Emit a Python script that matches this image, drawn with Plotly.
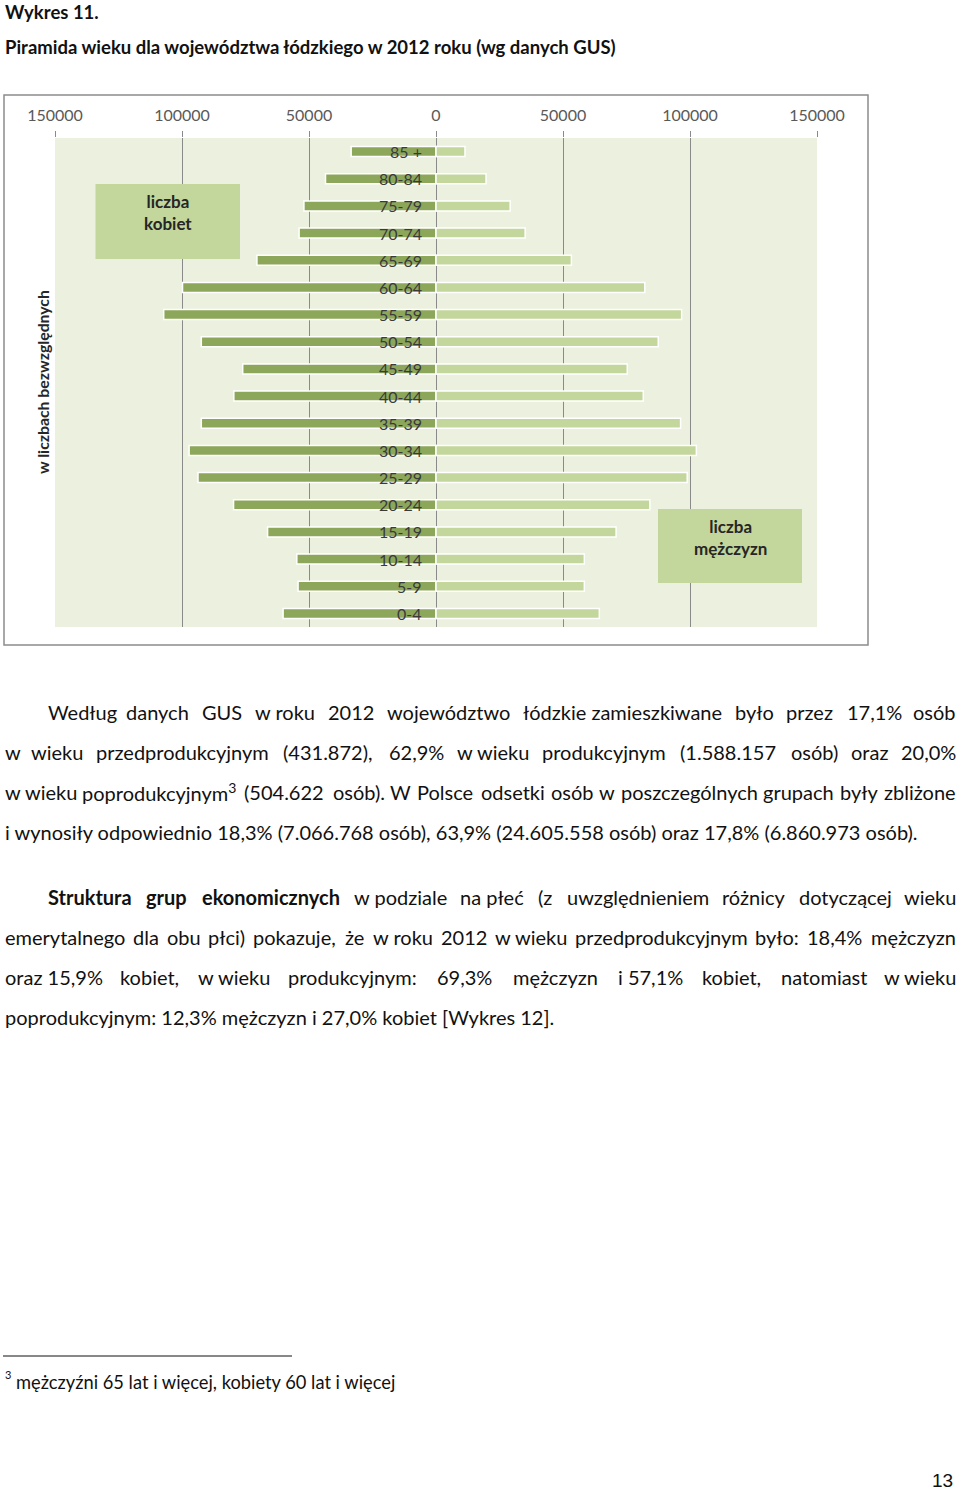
import re
import plotly.graph_objects as go

W, H = 960, 1490

# ---------------- data ----------------
age_groups = ["0-4", "5-9", "10-14", "15-19", "20-24", "25-29", "30-34", "35-39", "40-44",
              "45-49", "50-54", "55-59", "60-64", "65-69", "70-74", "75-79", "80-84", "85 +"]
female = [60200, 54300, 54800, 66300, 79700, 93700, 97200, 92400, 79600,
          76100, 92400, 107200, 99800, 70500, 53900, 52000, 43500, 33400]
male = [64300, 58400, 58400, 70900, 84200, 98900, 102500, 96300, 81600,
        75300, 87500, 96700, 82200, 53300, 35100, 29200, 19700, 11400]
tick_vals = [-150000, -100000, -50000, 0, 50000, 100000, 150000]
tick_text = ["150000", "100000", "50000", "0", "50000", "100000", "150000"]

FEMALE_C = "#8CA75A"
MALE_C = "#C3D69B"
BG_C = "#EBF1DE"
GRID_C = "#8A8A8A"
FONT = "Lato, 'Open Sans', sans-serif"


def pxx(x):
    return x / W


def pyy(y):
    return 1 - y / H


fig = go.Figure()
fig.add_trace(go.Bar(y=age_groups, x=[-v for v in female], orientation="h", width=0.37,
                     marker=dict(color=FEMALE_C, line=dict(color="white", width=1.5)),
                     name="kobiety", customdata=female,
                     hovertemplate="%{y}: %{customdata}<extra>kobiety</extra>"))
fig.add_trace(go.Bar(y=age_groups, x=male, orientation="h", width=0.37,
                     marker=dict(color=MALE_C, line=dict(color="white", width=1.5)),
                     name="mężczyźni",
                     hovertemplate="%{y}: %{x}<extra>mężczyźni</extra>"))

annotations = []
shapes = []

# age labels inside chart
for ag in age_groups:
    annotations.append(dict(xref="x", yref="y", x=0, y=ag, text=ag, showarrow=False,
                            xanchor="right", yanchor="middle", xshift=-12,
                            font=dict(family=FONT, size=16, color="#3A3A3A")))

# y title
annotations.append(dict(xref="paper", yref="paper", x=pxx(42), y=pyy(382),
                        text="<b>w liczbach bezwzględnych</b>", textangle=-90, showarrow=False,
                        xanchor="center", yanchor="middle",
                        font=dict(family=FONT, size=15.8, color="#262626")))

# label boxes
shapes.append(dict(type="rect", xref="paper", yref="paper", x0=pxx(95.5), x1=pxx(240),
                   y0=pyy(259), y1=pyy(184), fillcolor=MALE_C, line=dict(width=0), layer="above"))
shapes.append(dict(type="rect", xref="paper", yref="paper", x0=pxx(658), x1=pxx(802),
                   y0=pyy(583), y1=pyy(509), fillcolor=MALE_C, line=dict(width=0), layer="above"))
annotations.append(dict(xref="paper", yref="paper", x=pxx(168), y=pyy(212),
                        text="<b>liczba<br>kobiet</b>", showarrow=False, align="center",
                        xanchor="center", yanchor="middle",
                        font=dict(family=FONT, size=17, color="#262626")))
annotations.append(dict(xref="paper", yref="paper", x=pxx(730), y=pyy(537),
                        text="<b>liczba<br>mężczyzn</b>", showarrow=False, align="center",
                        xanchor="center", yanchor="middle",
                        font=dict(family=FONT, size=17, color="#262626")))

# outer chart frame
shapes.append(dict(type="rect", xref="paper", yref="paper", x0=pxx(4), x1=pxx(868),
                   y0=pyy(645), y1=pyy(95), line=dict(color="#8C8C8C", width=1.5),
                   fillcolor="rgba(0,0,0,0)", layer="below"))

# ---------------- page text ----------------
TEXT_C = "#111111"


def char_w(c):
    if c == " ":
        return 0.193
    if c in "ilj.,:;'!|":
        return 0.24
    if c in "ł":
        return 0.28
    if c in "ftr()[]":
        return 0.33
    if c.isdigit():
        return 0.58
    if c == "%":
        return 0.82
    if c in "mMW":
        return 0.85
    if c in "w":
        return 0.75
    if c.isupper():
        return 0.66
    if c in "szc":
        return 0.43
    return 0.53


def est_w(tok, size):
    sup = re.findall(r"<sup>(.*?)</sup>", tok)
    plain = re.sub(r"<sup>.*?</sup>", "", tok)
    plain = re.sub(r"<.*?>", "", plain)
    bold = "<b>" in tok
    w = sum(char_w(c) for c in plain) * size * (1.04 if bold else 1.0)
    w += sum(len(s) for s in sup) * 0.42 * size
    return w * 1.02


def add_line(text, y, left, right, size, justify=True, color=TEXT_C):
    toks = [t.replace("~", " ") for t in text.split(" ")]
    if not justify or len(toks) == 1:
        annotations.append(dict(xref="paper", yref="paper", x=pxx(left), y=pyy(y),
                                text=text.replace("~", " "), showarrow=False,
                                xanchor="left", yanchor="middle",
                                font=dict(family=FONT, size=size, color=color)))
        return
    ws = [est_w(t, size) for t in toks]
    gap = (right - left - sum(ws)) / (len(toks) - 1)
    x = left
    for i, (t, w) in enumerate(zip(toks, ws)):
        if i == 0:
            xa, xp = "left", left
        elif i == len(toks) - 1:
            xa, xp = "right", right
        else:
            xa, xp = "center", x + w / 2
        annotations.append(dict(xref="paper", yref="paper", x=pxx(xp), y=pyy(y), text=t,
                                showarrow=False, xanchor=xa, yanchor="middle",
                                font=dict(family=FONT, size=size, color=color)))
        x += w + gap


# titles
annotations.append(dict(xref="paper", yref="paper", x=pxx(3), y=pyy(12), text="<b>Wykres 11.</b>",
                        showarrow=False, xanchor="left", yanchor="middle",
                        font=dict(family=FONT, size=18.5, color=TEXT_C)))
annotations.append(dict(xref="paper", yref="paper", x=pxx(3), y=pyy(47),
                        text="<b>Piramida wieku dla województwa łódzkiego w 2012 roku (wg danych GUS)</b>",
                        showarrow=False, xanchor="left", yanchor="middle",
                        font=dict(family=FONT, size=18.5, color=TEXT_C)))

BS = 20
L, R = 3, 958
add_line("Według danych GUS w~roku 2012 województwo łódzkie~zamieszkiwane było przez 17,1% osób",
         712, 46, R, BS)
add_line("w wieku przedprodukcyjnym (431.872), 62,9% w~wieku produkcyjnym (1.588.157 osób) oraz 20,0%",
         752, L, R, BS)
add_line("w~wieku poprodukcyjnym<sup>3</sup> (504.622 osób). W Polsce odsetki osób w poszczególnych grupach były zbliżone",
         792, L, R, BS)
add_line("i wynosiły odpowiednio 18,3% (7.066.768 osób), 63,9% (24.605.558 osób) oraz 17,8% (6.860.973 osób).",
         832, L, R, BS, justify=False)
add_line("<b>Struktura</b> <b>grup</b> <b>ekonomicznych</b> w~podziale na~płeć (z uwzględnieniem różnicy dotyczącej wieku",
         897, 46, R, BS)
add_line("emerytalnego dla obu płci) pokazuje, że w~roku 2012 w~wieku przedprodukcyjnym było: 18,4% mężczyzn",
         937, L, R, BS)
add_line("oraz~15,9% kobiet, w~wieku produkcyjnym: 69,3% mężczyzn i~57,1% kobiet, natomiast w~wieku",
         977, L, R, BS)
add_line("poprodukcyjnym: 12,3% mężczyzn i 27,0% kobiet [Wykres 12].",
         1017, L, R, BS, justify=False)

# footnote
shapes.append(dict(type="line", xref="paper", yref="paper", x0=pxx(3), x1=pxx(292),
                   y0=pyy(1356), y1=pyy(1356), line=dict(color="#111111", width=1)))
annotations.append(dict(xref="paper", yref="paper", x=pxx(3), y=pyy(1374), text="3",
                        showarrow=False, xanchor="left", yanchor="middle",
                        font=dict(family=FONT, size=11, color=TEXT_C)))
annotations.append(dict(xref="paper", yref="paper", x=pxx(14), y=pyy(1382),
                        text="mężczyźni 65 lat i więcej, kobiety 60 lat i więcej",
                        showarrow=False, xanchor="left", yanchor="middle",
                        font=dict(family=FONT, size=18.3, color=TEXT_C)))
# page number
annotations.append(dict(xref="paper", yref="paper", x=pxx(955), y=pyy(1480), text="13",
                        showarrow=False, xanchor="right", yanchor="middle",
                        font=dict(family="'Liberation Sans', Arial, sans-serif", size=19, color=TEXT_C)))

fig.update_layout(
    width=W, height=H,
    margin=dict(l=0, r=0, t=0, b=0, pad=0, autoexpand=False),
    paper_bgcolor="white",
    plot_bgcolor=BG_C,
    barmode="overlay",
    showlegend=False,
    xaxis=dict(domain=[pxx(55), pxx(817)], range=[-150000, 150000], side="top",
               tickmode="array", tickvals=tick_vals, ticktext=tick_text,
               showgrid=True, gridcolor=GRID_C, gridwidth=1,
               zeroline=True, zerolinecolor=GRID_C, zerolinewidth=1,
               ticks="outside", ticklen=6, tickcolor=GRID_C, tickwidth=1,
               ticklabelstandoff=4, automargin=False,
               tickfont=dict(family=FONT, size=16, color="#595959"),
               showline=False, fixedrange=True),
    yaxis=dict(domain=[pyy(627), pyy(138)], type="category", range=[-0.5, 17.5],
               showticklabels=False, showgrid=False, zeroline=False, ticks="",
               automargin=False, fixedrange=True),
    annotations=annotations,
    shapes=shapes,
)

fig.write_html("out.html")
